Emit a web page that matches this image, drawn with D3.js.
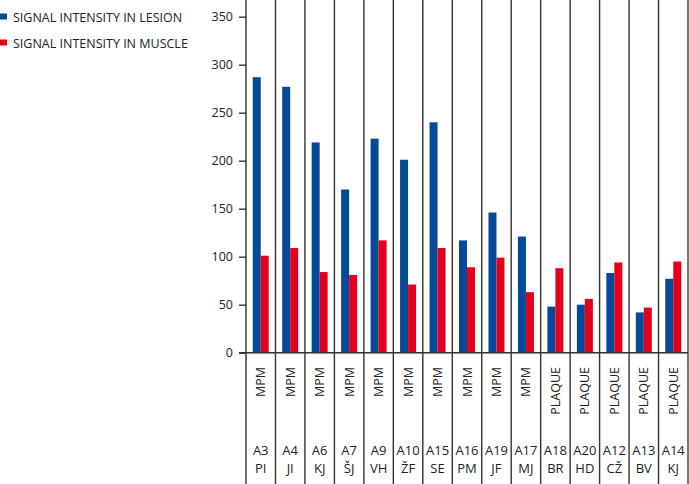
<!DOCTYPE html>
<html><head><meta charset="utf-8">
<script src="https://cdn.jsdelivr.net/npm/d3@7"></script>
<style>html,body{margin:0;padding:0;background:#fff;}svg{display:block;font-family:"Open Sans",sans-serif;}</style>
</head><body>
<svg id="c" width="689" height="484"></svg>
<script>
const ids = ["A3","A4","A6","A7","A9","A10","A15","A16","A19","A17","A18","A20","A12","A13","A14"];
const initials = ["PI","JI","KJ","ŠJ","VH","ŽF","SE","PM","JF","MJ","BR","HD","CŽ","BV","KJ"];
const types = ["MPM","MPM","MPM","MPM","MPM","MPM","MPM","MPM","MPM","MPM","PLAQUE","PLAQUE","PLAQUE","PLAQUE","PLAQUE"];
const lesion = [287,277,219,170,223,201,240,117,146,121,48,50,83,42,77];
const muscle = [101,109,84,81,117,71,109,89,99,63,88,56,94,47,95];
const seriesNames = ["SIGNAL INTENSITY IN LESION","SIGNAL INTENSITY IN MUSCLE"];
const colors = ["#054a98","#e2001a"];
const yTicks = [0,50,100,150,200,250,300,350];

const svg = d3.select("#c");
const x0 = d3.scaleBand().domain(ids).range([246,688]).padding(0);
const y = d3.scaleLinear().domain([0,350]).range([352.7,16.7]);
const x1 = d3.scaleBand().domain([0,1]).range([0,16]);
const off = (x0.bandwidth()-16)/2;

// separators
const bounds = ids.map(d=>x0(d)).concat([688]);
svg.selectAll("line.sep").data(bounds).join("line")
  .attr("x1",d=>d).attr("x2",d=>d).attr("y1",0).attr("y2",484)
  .attr("stroke",(d,i)=>i===bounds.length-1?"#777":"#333").attr("stroke-width",(d,i)=>i===bounds.length-1?2:1.4);

// bars
const g = svg.append("g");
ids.forEach((id,i)=>{
  [lesion[i],muscle[i]].forEach((v,s)=>{
    g.append("rect").attr("x",x0(id)+off+x1(s)).attr("width",x1.bandwidth())
     .attr("y",y(v)).attr("height",y(0)-y(v)).attr("fill",colors[s]);
  });
});

// y axis
const yAxis = d3.axisLeft(y).tickValues(yTicks).tickSize(7).tickPadding(6);
const ya = svg.append("g").attr("transform","translate(246,0)").call(yAxis);
ya.select(".domain").remove();
ya.selectAll(".tick line").attr("stroke","#333").attr("stroke-width",1.4);
ya.selectAll(".tick text").attr("font-size",12.5).attr("fill","#222").attr("font-family","Open Sans, sans-serif");

// zero line
svg.append("line").attr("x1",239).attr("x2",688).attr("y1",y(0)).attr("y2",y(0)).attr("stroke","#333").attr("stroke-width",1.4);

// type labels
svg.selectAll("text.type").data(ids).join("text")
  .attr("transform",(d)=>`translate(${x0(d)+x0.bandwidth()/2+4.5},367) rotate(-90)`)
  .attr("text-anchor","end").attr("font-size",12.5).attr("fill","#222")
  .text((d,i)=>types[i]);

// id labels
svg.selectAll("text.id").data(ids).join("text")
  .attr("x",d=>x0(d)+x0.bandwidth()/2).attr("y",455)
  .attr("text-anchor","middle").attr("font-size",13).attr("fill","#222").text(d=>d);
svg.selectAll("text.ini").data(ids).join("text")
  .attr("x",d=>x0(d)+x0.bandwidth()/2).attr("y",472.5)
  .attr("text-anchor","middle").attr("font-size",13).attr("fill","#222").text((d,i)=>initials[i]);

// legend
seriesNames.forEach((n,i)=>{
  svg.append("rect").attr("x",0).attr("y",13.5+i*26).attr("width",7).attr("height",6).attr("fill",colors[i]);
  svg.append("text").attr("x",13).attr("y",21.5+i*26).attr("font-size",12.5).attr("fill","#222").text(n);
});
</script>
</body></html>
